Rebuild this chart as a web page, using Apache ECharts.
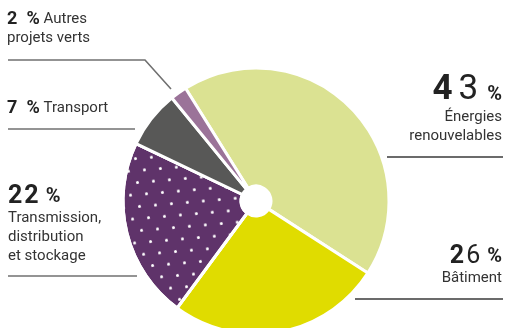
<!DOCTYPE html>
<html><head><meta charset="utf-8">
<script src="https://cdn.jsdelivr.net/npm/echarts@6/dist/echarts.min.js"></script>
<style>html,body{margin:0;padding:0;background:#fff}#c{width:505px;height:328px}</style>
</head><body><div id="c"></div>
<script>
const categories = ['Énergies\nrenouvelables', 'Bâtiment', 'Transmission,\ndistribution\net stockage', 'Transport', 'Autres\nprojets verts'];
const values = [43, 26, 22, 7, 2];
const colors = ['#dbe292', '#e0dc00', '#5f336a', '#585857', '#9b7399'];

// label layout (positions in px) and number styling
const labelPos = [
  {x: 502, y: 72, align: 'right', line: [[387,157],[445,157],[503,157]], lc: '#3a3a3a', lw: 1.3, size: 'b', w2: 'N'},
  {x: 502, y: 242, align: 'right', line: [[355,299],[430,299],[503,299]], lc: '#3a3a3a', lw: 1.3, size: 'm', w2: 'N'},
  {x: 8, y: 182, align: 'left', line: [[137,276],[70,276],[8,276]], lc: '#707070', lw: 1.6, size: 'm', w2: 'B'},
  {x: 7, y: 98, align: 'left', line: [[135,129],[70,129],[8,129]], lc: '#707070', lw: 1.6, size: 's'},
  {x: 7, y: 9, align: 'left', line: [[171,89],[145,60],[8,60]], lc: '#707070', lw: 1.6, size: 's'}
];

const FONT = 'Roboto';
function fmt(p) {
  const i = p.dataIndex, s = labelPos[i];
  const digits = String(values[i]).split('');
  const nm = categories[i].split('\n').map(l => '{name|' + l + '}');
  if (s.size === 'b' || s.size === 'm') {
    const pre = s.size;
    let num = '{' + pre + 'B|' + digits[0] + '}';
    if (digits.length > 1) num += '{' + pre + s.w2 + '2|' + digits[1] + '}';
    return num + '{' + pre + 'P|%}\n' + nm.join('\n');
  }
  return '{sm|' + digits.join('') + '\u2002%} ' + nm[0] + (nm.length > 1 ? '\n' + nm.slice(1).join('\n') : '');
}

const data = values.map((v, i) => {
  const d = {
    value: v, name: categories[i],
    itemStyle: {color: colors[i]},
    label: {align: labelPos[i].align},
    labelLine: {lineStyle: {color: labelPos[i].lc, width: labelPos[i].lw}}
  };
  if (i === 2) d.itemStyle.decal = {
    symbol: 'circle', symbolSize: 1, color: '#ffffff',
    dashArrayX: [[3, 12.7], [0, 7.85, 3, 4.85]], dashArrayY: [3, 8.5], rotation: -0.085
  };
  return d;
});

const num = (size, w, extra) => Object.assign({fontSize: size, fontWeight: w, color: '#222', fontFamily: FONT, verticalAlign: 'bottom'}, extra || {});

const chart = echarts.init(document.getElementById('c'), null, {renderer: 'canvas'});
chart.setOption({
  animation: false,
  series: [{
    type: 'pie',
    center: [256, 201],
    radius: [15, 133],
    startAngle: 122,
    clockwise: true,
    avoidLabelOverlap: false,
    itemStyle: {borderColor: '#ffffff', borderWidth: 3},
    label: {
      show: true, position: 'outside', formatter: fmt,
      fontFamily: FONT, fontSize: 15, color: '#333',
      rich: {
        bB: num(35, 'bold', {lineHeight: 36}),
        bN2: num(35, 'normal', {lineHeight: 36, padding: [0, 0, 0, 6]}),
        bP: num(20, 'bold', {lineHeight: 36, padding: [0, 0, 3, 9]}),
        mB: num(25, 'bold', {lineHeight: 27}),
        mN2: num(25, 'normal', {lineHeight: 27, padding: [0, 0, 0, 2]}),
        mB2: num(25, 'bold', {lineHeight: 27, padding: [0, 0, 0, 2]}),
        mP: num(20, 'bold', {lineHeight: 27, padding: [0, 0, 2, 7]}),
        sm: {fontSize: 18, fontWeight: 'bold', color: '#222', lineHeight: 20, fontFamily: FONT},
        name: {fontSize: 15, color: '#333', lineHeight: 19, fontFamily: FONT}
      }
    },
    labelLine: {show: true},
    labelLayout: function (params) {
      const s = labelPos[params.dataIndex];
      return {x: s.x, y: s.y, align: s.align, verticalAlign: 'top', labelLinePoints: s.line};
    },
    emphasis: {disabled: true},
    data: data
  }]
});
</script>
</body></html>
